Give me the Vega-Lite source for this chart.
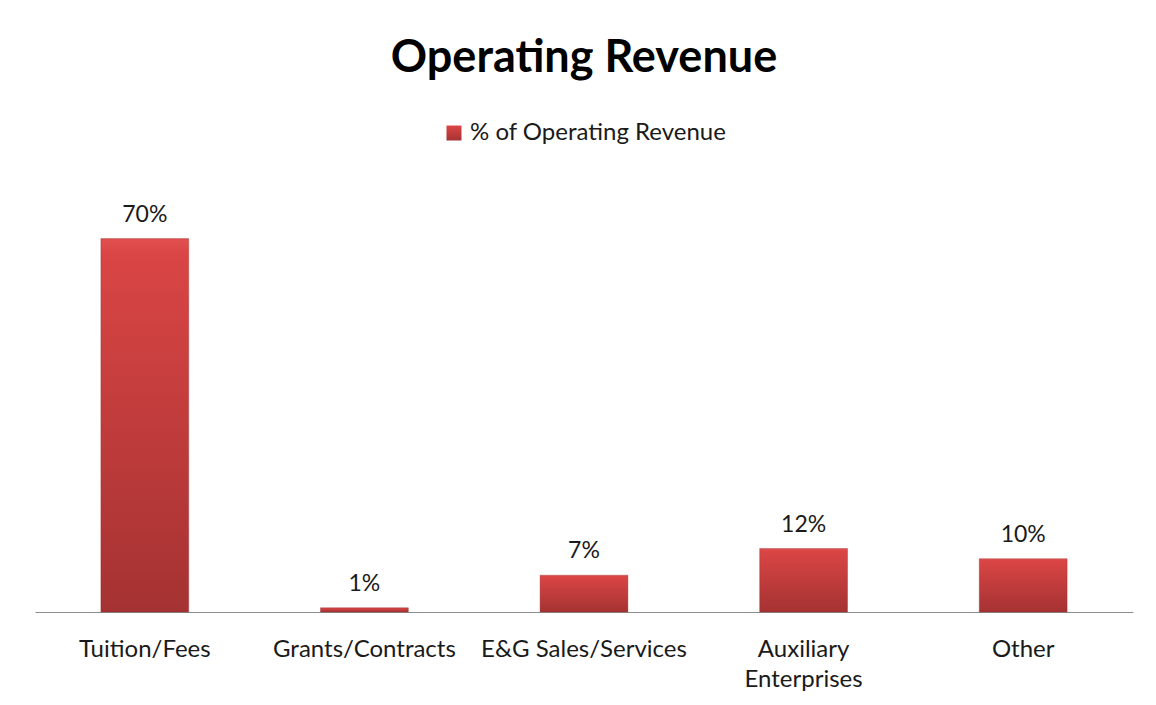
{
  "$schema": "https://vega.github.io/schema/vega-lite/v6.json",
  "width": 1098,
  "height": 412,
  "autosize": {"type": "none"},
  "padding": {"left": 35, "top": 200, "right": 23, "bottom": 93},
  "background": "white",
  "title": {
    "text": "Operating Revenue",
    "font": "Lato",
    "fontSize": 45,
    "fontWeight": "bold",
    "color": "#000000",
    "anchor": "middle",
    "offset": 40
  },
  "config": {
    "view": {"stroke": null},
    "font": "Lato"
  },
  "data": {
    "values": [
      {"category": "Tuition/Fees", "share": 0.700, "series": "% of Operating Revenue"},
      {"category": "Grants/Contracts", "share": 0.008, "series": "% of Operating Revenue"},
      {"category": "E&G Sales/Services", "share": 0.069, "series": "% of Operating Revenue"},
      {"category": "Auxiliary Enterprises", "share": 0.119, "series": "% of Operating Revenue"},
      {"category": "Other", "share": 0.100, "series": "% of Operating Revenue"}
    ]
  },
  "encoding": {
    "x": {
      "field": "category",
      "type": "nominal",
      "sort": null,
      "title": null,
      "scale": {"paddingInner": 0.6, "paddingOuter": 0.3},
      "axis": {
        "labelAngle": 0,
        "labelFont": "Lato",
        "labelFontSize": 24,
        "labelColor": "#1a1a1a",
        "labelPadding": 25,
        "labelLineHeight": 30,
        "labelLimit": 0,
        "labelExpr": "datum.label == 'Auxiliary Enterprises' ? ['Auxiliary', 'Enterprises'] : datum.label",
        "ticks": false,
        "domainColor": "#8c8c8c",
        "domainWidth": 1.2,
        "grid": false
      }
    },
    "y": {
      "field": "share",
      "type": "quantitative",
      "scale": {"domain": [0, 0.7724], "nice": false},
      "axis": null
    }
  },
  "layer": [
    {
      "mark": {
        "type": "bar",
        "color": {"gradient": "linear", "x1": 0, "y1": 0, "x2": 0, "y2": 1,
          "stops": [
            {"offset": 0, "color": "#E25050"},
            {"offset": 0.04, "color": "#DA4545"},
            {"offset": 1, "color": "#A53232"}
          ]},
        "stroke": "#8f2a2a",
        "strokeWidth": 0.6,
        "strokeOpacity": 0.6
      },
      "encoding": {
        "opacity": {
          "field": "series",
          "type": "nominal",
          "scale": {"range": [1]},
          "legend": {
            "title": null,
            "orient": "none",
            "legendX": 407,
            "legendY": -79,
            "direction": "horizontal",
            "symbolType": "square",
            "symbolSize": 225,
            "symbolFillColor": "#C53B3B",
            "symbolStrokeColor": "#9a2c2c",
            "symbolStrokeWidth": 0.5,
            "symbolOpacity": 1,
            "labelFont": "Lato",
            "labelFontSize": 24,
            "labelColor": "#1a1a1a",
            "labelOffset": 4,
            "labelLimit": 0,
            "padding": 0
          }
        }
      }
    },
    {
      "mark": {"type": "text", "baseline": "alphabetic", "dy": -17, "font": "Lato", "fontSize": 23, "color": "#1a1a1a"},
      "encoding": {
        "text": {"field": "share", "type": "quantitative", "format": ".0%"}
      }
    }
  ]
}
